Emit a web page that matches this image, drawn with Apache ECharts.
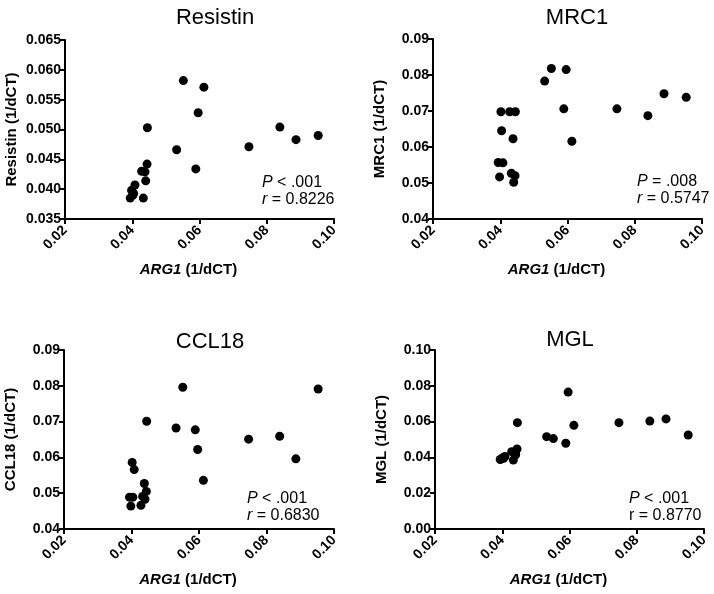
<!DOCTYPE html>
<html>
<head>
<meta charset="utf-8">
<script src="https://cdn.jsdelivr.net/npm/echarts@6/dist/echarts.min.js"></script>
<style>html,body{margin:0;padding:0;background:#fff}#c{width:714px;height:594px}</style>
</head>
<body>
<div id="c"></div>
<script>
// Shared ARG1 values (x) for all four panels
const xARG1 = [0.0394, 0.0398, 0.0402, 0.0404, 0.0408, 0.0428, 0.0433, 0.0438, 0.0440, 0.0444, 0.0445,
               0.0532, 0.0552, 0.0589, 0.0596, 0.0613, 0.0747, 0.0839, 0.0887, 0.0953];
const yResistin = [0.0385, 0.0398, 0.0390, 0.0393, 0.0407, 0.0430, 0.0385, 0.0429, 0.0414, 0.0442, 0.0503,
                   0.0466, 0.0582, 0.0434, 0.0528, 0.0571, 0.0471, 0.0504, 0.0483, 0.0490];
const yMRC1 = [0.0557, 0.0517, 0.0698, 0.0645, 0.0556, 0.0698, 0.0527, 0.0623, 0.0502, 0.0520, 0.0698,
               0.0783, 0.0818, 0.0706, 0.0815, 0.0616, 0.0706, 0.0687, 0.0748, 0.0738];
const yCCL18 = [0.0489, 0.0464, 0.0586, 0.0489, 0.0566, 0.0466, 0.0491, 0.0527, 0.0483, 0.0505, 0.0701,
                0.0682, 0.0796, 0.0677, 0.0622, 0.0536, 0.0651, 0.0659, 0.0596, 0.0791];
const yMGL = [0.0388, 0.0392, 0.0398, 0.0395, 0.0405, 0.0432, 0.0385, 0.0423, 0.0415, 0.0447, 0.0594,
              0.0516, 0.0505, 0.0479, 0.0765, 0.0579, 0.0594, 0.0603, 0.0615, 0.0525];

const panelTitles = ['Resistin', 'MRC1', 'CCL18', 'MGL'];
const yNames = ['Resistin (1/dCT)', 'MRC1 (1/dCT)', 'CCL18 (1/dCT)', 'MGL (1/dCT)'];
const yMin = [0.035, 0.04, 0.04, 0.00];
const yMax = [0.065, 0.09, 0.09, 0.10];
const yStep = [0.005, 0.01, 0.01, 0.02];
const yDigits = [3, 2, 2, 2];
const xTicks = {min: 0.02, max: 0.10, step: 0.02};
const statsP = ['< .001', '= .008', '< .001', '< .001'];
const statsR = ['0.8226', '0.5747', '0.6830', '0.8770'];
const rItalic = [true, true, true, false];
const ySeries = [yResistin, yMRC1, yCCL18, yMGL];

const FONT = '"Liberation Sans", Arial, sans-serif';
const grids = [
  {left: 65, top: 40, width: 269, height: 179},
  {left: 433, top: 39, width: 269, height: 180},
  {left: 64, top: 350, width: 270, height: 179},
  {left: 435, top: 350, width: 269, height: 179}
];
const titlePos = [[210, 2], [572, 2], [205, 326], [565, 324]];
const statPos = [[262, 174], [637, 173], [247, 490], [629, 490]];

const option = {
  backgroundColor: '#fff',
  animation: false,
  title: [],
  grid: grids,
  xAxis: [],
  yAxis: [],
  series: []
};

for (let i = 0; i < 4; i++) {
  option.title.push({
    text: panelTitles[i], left: titlePos[i][0], top: titlePos[i][1], textAlign: 'center',
    textStyle: {fontFamily: FONT, fontSize: 22, fontWeight: 'normal', color: '#000'}
  });
  option.title.push({
    text: '{i|P} ' + statsP[i] + '\n' + (rItalic[i] ? '{i|r}' : 'r') + ' = ' + statsR[i],
    left: statPos[i][0], top: statPos[i][1], padding: 0,
    textStyle: {fontFamily: FONT, fontSize: 16, fontWeight: 'normal', color: '#000', lineHeight: 17,
      rich: {i: {fontFamily: FONT, fontSize: 16, fontStyle: 'italic', color: '#000', lineHeight: 17}}}
  });
  option.xAxis.push({
    type: 'value', gridIndex: i, min: xTicks.min, max: xTicks.max, interval: xTicks.step,
    name: '{b|ARG1} (1/dCT)', nameLocation: 'middle', nameGap: 43,
    nameTextStyle: {fontFamily: FONT, fontSize: 15, fontWeight: 'bold', color: '#000', padding: [0, 22, 0, 0],
      rich: {b: {fontFamily: FONT, fontSize: 15, fontWeight: 'bold', fontStyle: 'italic', color: '#000'}}},
    axisLine: {show: true, onZero: false, lineStyle: {color: '#000', width: 2}},
    axisTick: {show: true, inside: false, length: 5, lineStyle: {color: '#000', width: 2}},
    splitLine: {show: false},
    axisLabel: {rotate: 45, margin: 9, fontFamily: FONT, fontSize: 14, fontWeight: 'bold', color: '#000',
      formatter: v => v.toFixed(2)}
  });
  const d = yDigits[i];
  option.yAxis.push({
    type: 'value', gridIndex: i, min: yMin[i], max: yMax[i], interval: yStep[i],
    name: yNames[i], nameLocation: 'middle', nameGap: 46,
    nameTextStyle: {fontFamily: FONT, fontSize: 15, fontWeight: 'bold', color: '#000'},
    axisLine: {show: true, onZero: false, lineStyle: {color: '#000', width: 2}},
    axisTick: {show: true, inside: false, length: 5, lineStyle: {color: '#000', width: 2}},
    splitLine: {show: false},
    axisLabel: {margin: 4, fontFamily: FONT, fontSize: 14, fontWeight: 'bold', color: '#000',
      formatter: v => v.toFixed(d)}
  });
  option.series.push({
    type: 'scatter', xAxisIndex: i, yAxisIndex: i, symbol: 'circle', symbolSize: 9,
    itemStyle: {color: '#000', opacity: 1},
    data: xARG1.map((x, k) => [x, ySeries[i][k]])
  });
}

const chart = echarts.init(document.getElementById('c'), null, {renderer: 'canvas'});
chart.setOption(option);
</script>
</body>
</html>
